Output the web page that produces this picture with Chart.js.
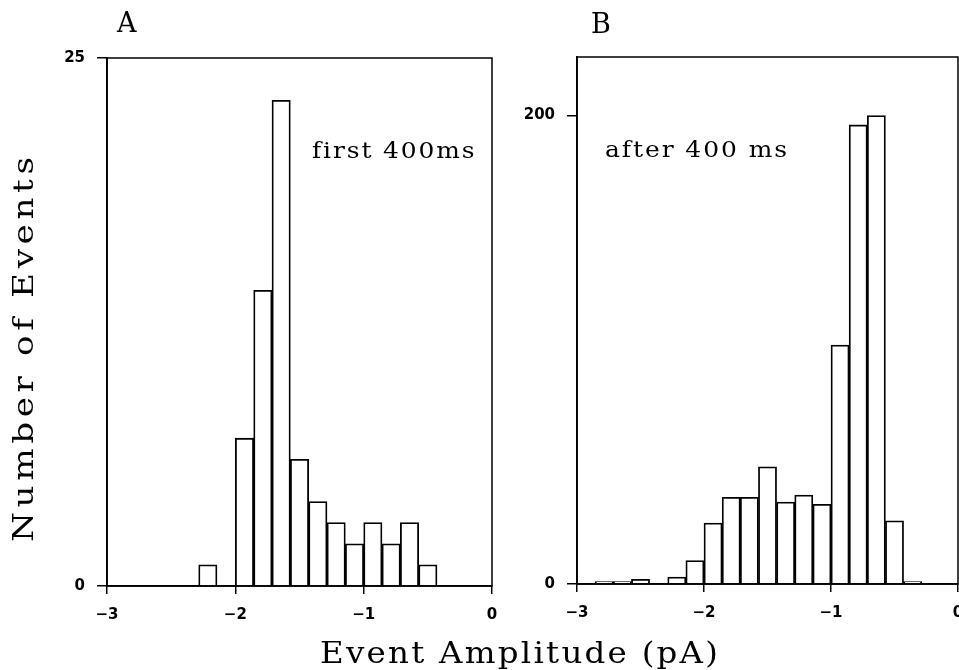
<!DOCTYPE html>
<html>
<head>
<meta charset="utf-8">
<script src="https://cdn.jsdelivr.net/npm/chart.js@4.4.1/dist/chart.umd.min.js"></script>
<style>
  html, body { margin: 0; padding: 0; background: #fff; overflow: hidden; }
  #wrap { position: relative; width: 959px; height: 670px; }
  canvas { position: absolute; top: 0; }
  #chartA { left: 0; }
  #chartB { left: 500px; }
</style>
</head>
<body>
<div id="wrap">
  <canvas id="chartA" width="959" height="670"></canvas>
  <canvas id="chartB" width="480" height="670"></canvas>
</div>
<script>
// histogram bins: lower edges from -3 pA in steps of 1/7 pA
const binStart = -3;
const binWidth = 1 / 7;

// event counts per bin (21 bins, -3 .. 0 pA)
const countsA = [0, 0, 0, 0, 0, 1, 0, 7, 14, 23, 6, 4, 3, 2, 3, 2, 3, 1, 0, 0, 0];
const countsB = [0, 1, 1, 2, 0, 3, 10, 26, 37, 37, 50, 35, 38, 34, 102, 196, 200, 27, 1, 0, 0];

const xTicks = [-3, -2, -1, 0];
const yTicksA = [0, 25];
const yTicksB = [0, 200];

const serif = '"DejaVu Serif", "Liberation Serif", serif';
const sans = '"DejaVu Sans", "Liberation Sans", sans-serif';

function toPoints(counts) {
    return counts.map((c, i) => ({ x: binStart + (i + 0.5) * binWidth, y: c }));
}

// draws free text (panel letters, notes, axis titles), widened to a target width
const textPlugin = {
    id: 'panelText',
    afterDraw(chart, args, opts) {
        const ctx = chart.ctx;
        ctx.save();
        ctx.fillStyle = '#000';
        ctx.textAlign = 'left';
        ctx.textBaseline = 'alphabetic';
        for (const t of opts.items || []) {
            ctx.font = t.font;
            ctx.letterSpacing = '0px';
            const w = ctx.measureText(t.text).width;
            let sx = 1;
            if (t.width) {
                // half of the extra width from wider glyphs, half from spacing
                sx = Math.sqrt(t.width / w);
                const extra = (t.width - w * sx) / sx;
                ctx.letterSpacing = (extra / (t.text.length - 1)) + 'px';
            }
            ctx.save();
            ctx.translate(t.x, t.y);
            if (t.rotate) ctx.rotate(t.rotate);
            ctx.scale(sx, 1);
            ctx.fillText(t.text, 0, 0);
            ctx.restore();
        }
        ctx.restore();
    }
};

// box round the plot area
const framePlugin = {
    id: 'frame',
    afterDraw(chart) {
        const { ctx, chartArea } = chart;
        ctx.save();
        ctx.strokeStyle = '#000';
        ctx.lineWidth = 1.5;
        ctx.strokeRect(chartArea.left, chartArea.top, chartArea.right - chartArea.left, chartArea.bottom - chartArea.top);
        ctx.restore();
    }
};

function makeChart(id, counts, yMax, yTicks, cfg) {
    const ctx = document.getElementById(id).getContext('2d');
    return new Chart(ctx, {
        type: 'bar',
        data: {
            datasets: [{
                data: toPoints(counts),
                backgroundColor: '#fff',
                borderColor: '#000',
                borderWidth: 1.8,
                borderSkipped: 'start',
                barPercentage: 1,
                categoryPercentage: 1
            }]
        },
        options: {
            responsive: false,
            animation: false,
            events: [],
            layout: { padding: cfg.padding },
            plugins: {
                legend: { display: false },
                tooltip: { enabled: false },
                panelText: { items: cfg.texts }
            },
            scales: {
                x: {
                    type: 'linear',
                    min: -3,
                    max: 0,
                    offset: false,
                    afterBuildTicks: (scale) => { scale.ticks = xTicks.map(v => ({ value: v })); },
                    afterFit: (scale) => { scale.height = 40; },
                    grid: {
                        offset: false,
                        drawOnChartArea: false,
                        drawTicks: true,
                        tickLength: 8,
                        color: '#000',
                        lineWidth: 1.5
                    },
                    border: { display: true, color: '#000', width: 1.8 },
                    ticks: {
                        color: '#000',
                        padding: 12,
                        maxRotation: 0,
                        font: { family: sans, size: 15, weight: 'bold' },
                        callback: (v) => (v < 0 ? '\u2212' + Math.abs(v) : String(v))
                    }
                },
                y: {
                    min: 0,
                    max: yMax,
                    afterBuildTicks: (scale) => { scale.ticks = yTicks.map(v => ({ value: v })); },
                    afterFit: (scale) => { scale.width = cfg.yWidth; },
                    grid: {
                        drawOnChartArea: false,
                        drawTicks: true,
                        tickLength: 10,
                        color: '#000',
                        lineWidth: 1.5
                    },
                    border: { display: true, color: '#000', width: 1.8 },
                    ticks: {
                        color: '#000',
                        padding: 12,
                        font: { family: sans, size: 15, weight: 'bold' }
                    }
                }
            }
        },
        plugins: [framePlugin, textPlugin]
    });
}

const chartA = makeChart('chartA', countsA, 25, yTicksA, {
    padding: { left: 60, top: 58, right: 467, bottom: 44 },
    yWidth: 47,
    texts: [
        { text: 'A', x: 117, y: 32, font: '27px ' + serif },
        { text: 'first 400ms', x: 312, y: 158, font: '22px ' + serif, width: 162 },
        { text: 'Number of Events', x: 33, y: 542, font: '28px ' + serif, width: 385, rotate: -Math.PI / 2 },
        { text: 'Event Amplitude (pA)', x: 320, y: 663, font: '29px ' + serif, width: 398 }
    ]
});

const chartB = makeChart('chartB', countsB, 225, yTicksB, {
    padding: { left: 0, top: 57, right: 22, bottom: 46 },
    yWidth: 77,
    texts: [
        { text: 'B', x: 91, y: 33, font: '27px ' + serif },
        { text: 'after 400 ms', x: 105, y: 157, font: '22px ' + serif, width: 182 }
    ]
});
</script>
</body>
</html>
